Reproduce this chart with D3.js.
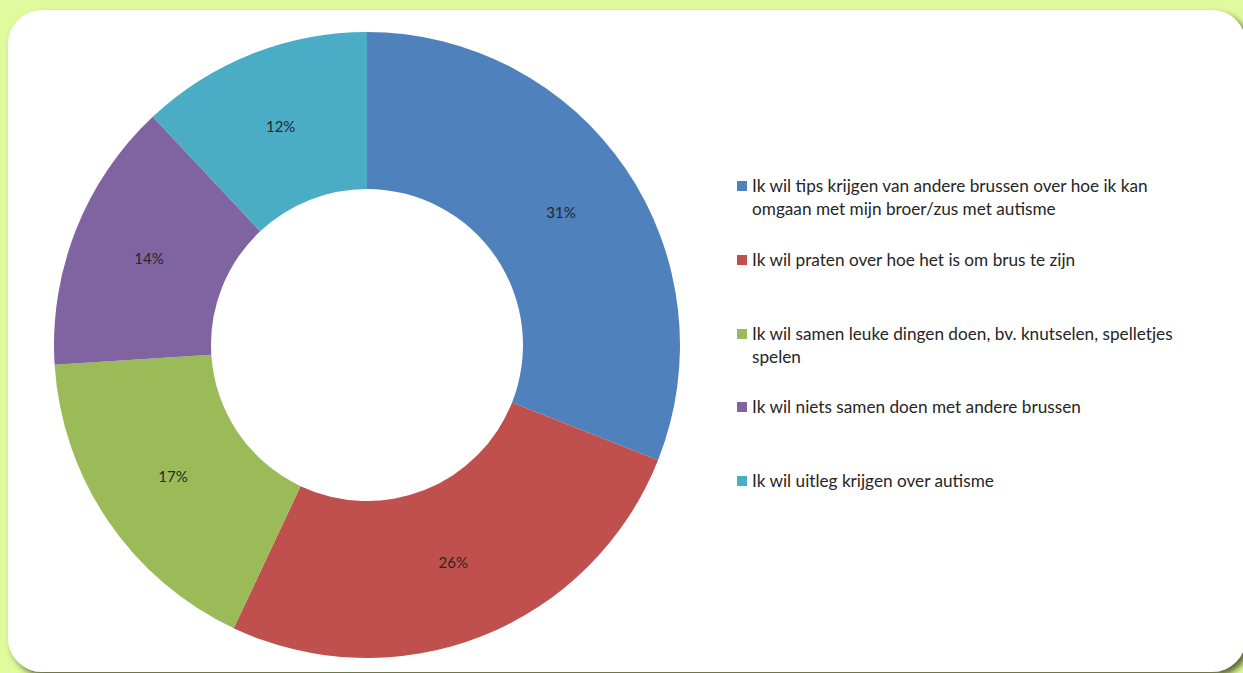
<!DOCTYPE html>
<html><head><meta charset="utf-8">
<script src="https://cdn.jsdelivr.net/npm/d3@7"></script>
<style>html,body{margin:0;padding:0;background:#e0fb9e;overflow:hidden}</style>
</head><body>
<svg id="c" width="1243" height="673"></svg>
<script>
const categories = [
  "Ik wil tips krijgen van andere brussen over hoe ik kan|omgaan met mijn broer/zus met autisme",
  "Ik wil praten over hoe het is om brus te zijn",
  "Ik wil samen leuke dingen doen, bv. knutselen, spelletjes|spelen",
  "Ik wil niets samen doen met andere brussen",
  "Ik wil uitleg krijgen over autisme"
];
const values = [31, 26, 17, 14, 12];
const colors = ["#4F81BD", "#C0504D", "#9BBB59", "#8064A2", "#4BACC6"];

const svg = d3.select("#c");
const defs = svg.append("defs");
const f = defs.append("filter").attr("id","sh").attr("x","-5%").attr("y","-5%").attr("width","115%").attr("height","115%");
f.append("feDropShadow").attr("dx",4).attr("dy",4).attr("stdDeviation",3).attr("flood-color","#4a4a20").attr("flood-opacity",0.85);

svg.append("rect").attr("x",8).attr("y",10).attr("width",1238).attr("height",662)
  .attr("rx",34).attr("ry",34).attr("fill","#ffffff").attr("filter","url(#sh)");

const cx = 367, cy = 345, R = 313, r = 156;
const g = svg.append("g").attr("transform",`translate(${cx},${cy})`);
const pie = d3.pie().sort(null).value(d=>d);
const arc = d3.arc().innerRadius(r).outerRadius(R);
const arcs = pie(values);
g.selectAll("path").data(arcs).join("path")
  .attr("d",arc).attr("fill",(d,i)=>colors[i]);
g.selectAll("text").data(arcs).join("text")
  .attr("transform",d=>`translate(${arc.centroid(d)})`)
  .attr("text-anchor","middle").attr("dy","0.35em")
  .style("font-family","Lato, sans-serif").style("font-size","15px")
  .attr("fill","#262626")
  .text(d=>d.data+"%");

const legendY = [186, 260, 334, 407, 481];
const lg = svg.append("g");
categories.forEach((c,i)=>{
  const y = legendY[i];
  lg.append("rect").attr("x",737).attr("y",y-5).attr("width",10).attr("height",10).attr("fill",colors[i]);
  const t = lg.append("text").attr("x",752).attr("y",y)
    .style("font-family","Lato, sans-serif").style("font-size","17.2px").attr("fill","#262626");
  c.split("|").forEach((line,j)=>{
    t.append("tspan").attr("x",752).attr("dy", j===0 ? "0.35em" : "23px").text(line);
  });
});
</script>
</body></html>
